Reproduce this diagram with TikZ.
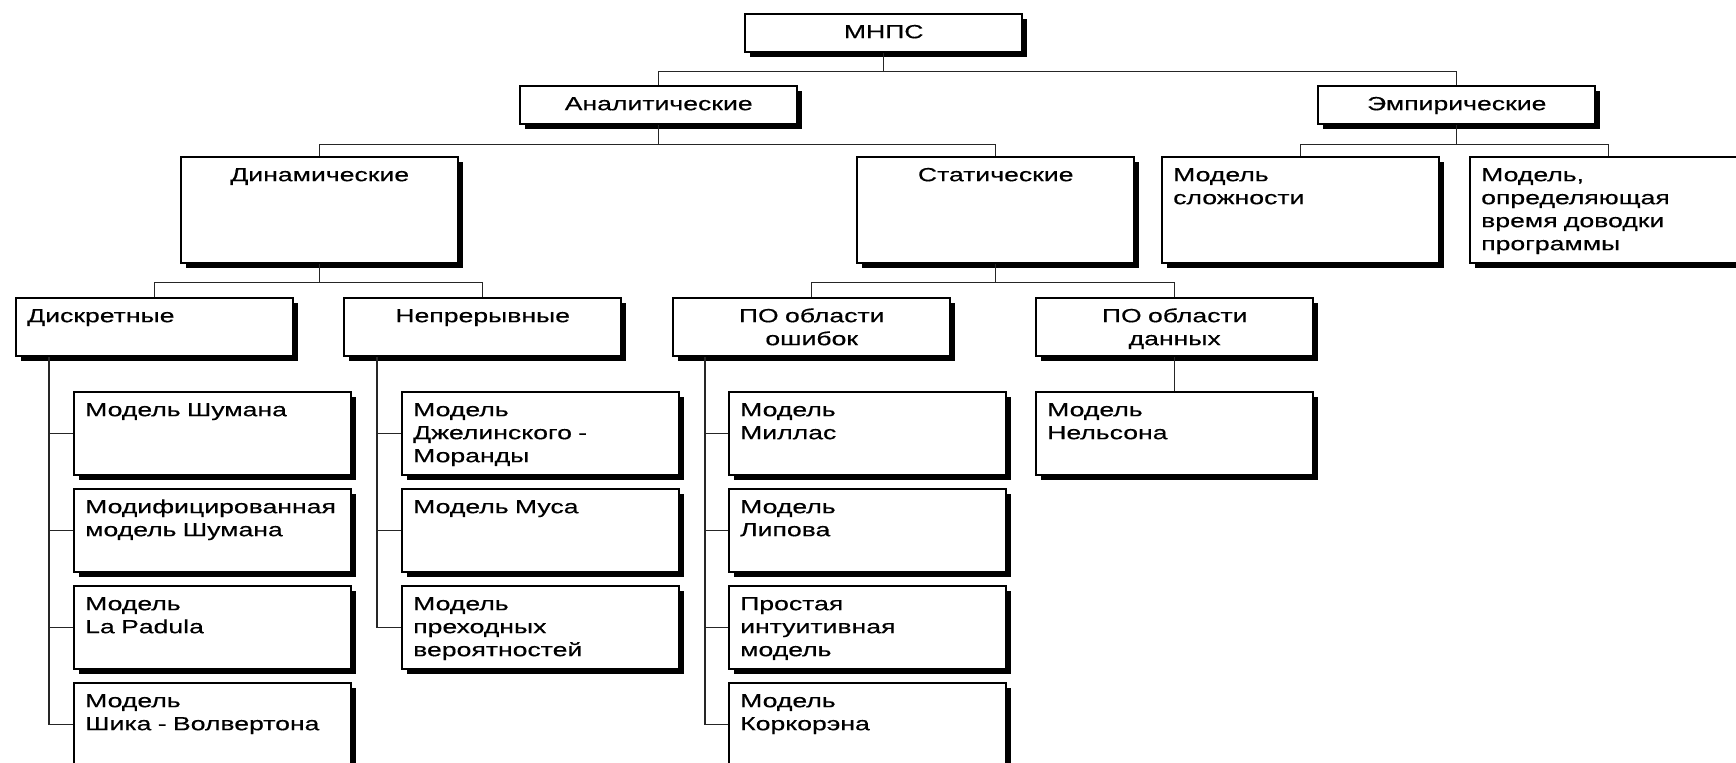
\documentclass[tikz,border=0pt]{standalone}
\usepackage{fontspec}
\setmainfont{Liberation Sans}[FakeStretch=1.4,FakeBold=0.4]
\usetikzlibrary{positioning,shadows}

\begin{document}
\begin{tikzpicture}[
    x=0.5pt, y=-0.5pt,
    font=\fontsize{9.5}{11.5}\selectfont,
    box/.style    ={draw, line width=1.2pt, fill=white, anchor=north west,
                    text width=127.5pt, inner xsep=5.5pt, inner ysep=0pt,
                    text height=12pt,
                    drop shadow={shadow xshift=2.5pt, shadow yshift=-2.5pt,
                                 fill=black, opacity=1}},
    head/.style   ={box, align=center, text depth=7pt},
    cat/.style    ={box, text depth=41pt},
    sub/.style    ={box, text depth=17pt},
    leaf/.style   ={box, align=left, text depth=29.5pt},
    link/.style   ={draw=black!85, line width=0.75pt}
]
\useasboundingbox (0,0) rectangle (1736,763);
\clip (0,0) rectangle (1736,763);

% --- root and first level ---
\node[head] (mnps) at (744,13) {МНПС};
\node[head] (anal) at (519,85) {Аналитические};
\node[head] (emp)  at (1317,85) {Эмпирические};

% --- second level ---
\node[cat, align=center] (dyn)   at (180,156)  {Динамические};
\node[cat, align=center] (stat)  at (856,156)  {Статические};
\node[cat, align=left]   (slozh) at (1161,156) {Модель\\сложности};
\node[cat, align=left]   (opr)   at (1469,156) {Модель,\\определяющая\\время доводки\\программы};

% --- third level ---
\node[sub, align=left]   (diskr) at (15,297)   {Дискретные};
\node[sub, align=center] (nepr)  at (343,297)  {Непрерывные};
\node[sub, align=center] (posh)  at (672,297)  {ПО области\\ошибок};
\node[sub, align=center] (podan) at (1035,297) {ПО области\\данных};

% --- discrete models ---
\node[leaf, below=16.8pt of diskr.south west, anchor=north west, xshift=29pt] (d1) {Модель Шумана};
\node[leaf, below=5.8pt of d1] (d2) {Модифицированная\\модель Шумана};
\node[leaf, below=5.8pt of d2] (d3) {Модель\\La Padula};
\node[leaf, below=5.8pt of d3] (d4) {Модель\\Шика - Волвертона};

% --- continuous models ---
\node[leaf, below=16.8pt of nepr.south west, anchor=north west, xshift=29pt] (n1) {Модель\\Джелинского -\\Моранды};
\node[leaf, below=5.8pt of n1] (n2) {Модель Муса};
\node[leaf, below=5.8pt of n2] (n3) {Модель\\преходных\\вероятностей};

% --- error-domain models ---
\node[leaf, below=16.8pt of posh.south west, anchor=north west, xshift=28pt] (o1) {Модель\\Миллас};
\node[leaf, below=5.8pt of o1] (o2) {Модель\\Липова};
\node[leaf, below=5.8pt of o2] (o3) {Простая\\интуитивная\\модель};
\node[leaf, below=5.8pt of o3] (o4) {Модель\\Коркорэна};

% --- data-domain model ---
\node[leaf, below=16.8pt of podan] (nels) {Модель\\Нельсона};

% --- tree connectors ---
\draw[link] (mnps.south) -- ++(0,18) -| (anal.north);
\draw[link] (mnps.south) -- ++(0,18) -| (emp.north);
\draw[link] (anal.south) -- ++(0,19) -| (dyn.north);
\draw[link] (anal.south) -- ++(0,19) -| (stat.north);
\draw[link] (emp.south)  -- ++(0,19) -| (slozh.north);
\draw[link] (emp.south)  -- ++(0,19) -| (opr.north);
\draw[link] (dyn.south)  -- ++(0,18) -| (diskr.north);
\draw[link] (dyn.south)  -- ++(0,18) -| (nepr.north);
\draw[link] (stat.south) -- ++(0,18) -| (posh.north);
\draw[link] (stat.south) -- ++(0,18) -| (podan.north);
\draw[link] (podan.south) -- (nels.north);

% --- side spines ---
\coordinate (dspine) at ([xshift=17pt]diskr.south west);
\coordinate (nspine) at ([xshift=17pt]nepr.south west);
\coordinate (ospine) at ([xshift=16.5pt]posh.south west);
\foreach \n in {d1,d2,d3,d4} \draw[link] (dspine) |- (\n.west);
\foreach \n in {n1,n2,n3}    \draw[link] (nspine) |- (\n.west);
\foreach \n in {o1,o2,o3,o4} \draw[link] (ospine) |- (\n.west);

\end{tikzpicture}
\end{document}
